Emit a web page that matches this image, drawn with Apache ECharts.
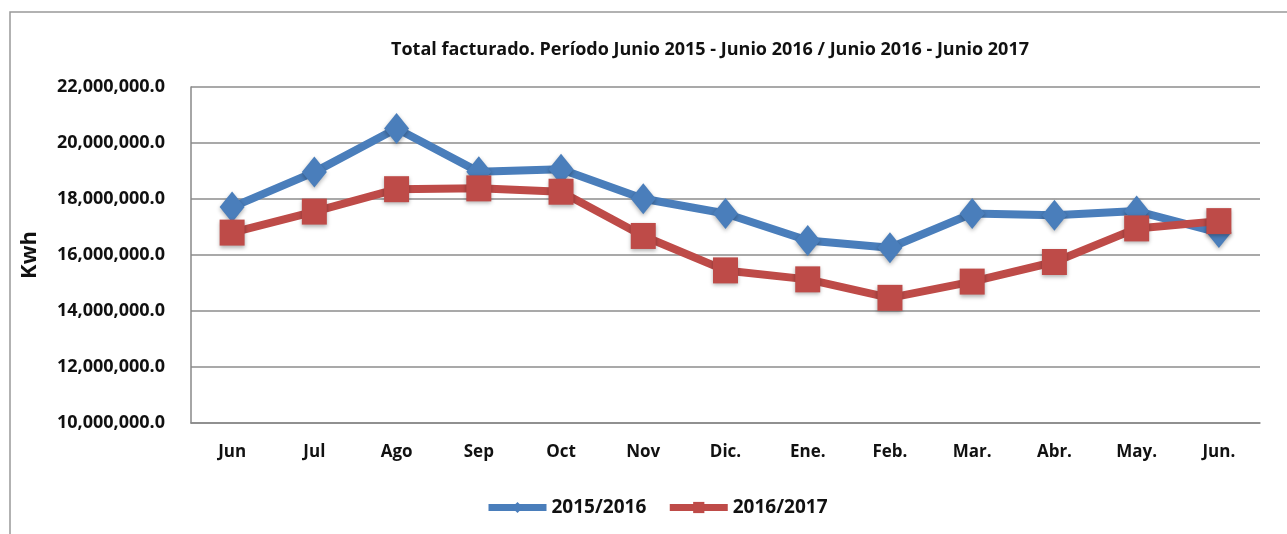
<!DOCTYPE html>
<html><head><meta charset="utf-8">
<script src="https://cdn.jsdelivr.net/npm/echarts@6/dist/echarts.min.js"></script>
<style>html,body{margin:0;padding:0;background:#fff}#c{width:1287px;height:534px}</style>
</head><body><div id="c"></div>
<script>
const categories = ['Jun','Jul','Ago','Sep','Oct','Nov','Dic.','Ene.','Feb.','Mar.','Abr.','May.','Jun.'];
const s2015 = [17710000,18960000,20520000,18970000,19060000,18010000,17480000,16520000,16260000,17480000,17420000,17570000,16800000];
const s2016 = [16800000,17550000,18350000,18380000,18260000,16680000,15450000,15130000,14470000,15050000,15750000,16950000,17210000];
const yTicks = {min:10000000, max:22000000, interval:2000000};
const FONT = '"Open Sans", "Liberation Sans", sans-serif';
const chart = echarts.init(document.getElementById('c'), null, {renderer:'canvas'});
const fmt = v => v.toLocaleString('en-US') + '.0';
chart.setOption({
  animation:false,
  backgroundColor:'#fff',
  graphic:[{type:'rect', shape:{x:10,y:12,width:1300,height:540}, style:{fill:'none', stroke:'#999', lineWidth:1.5}, z:-1}],
  title:{text:'Total facturado. Período Junio 2015 - Junio 2016 / Junio 2016 - Junio 2017', left:705, textAlign:'center', top:36,
    textStyle:{fontFamily:FONT, fontWeight:'bold', fontSize:18, color:'#111'}},
  grid:{left:191, right:27, top:87, bottom:111, containLabel:false},
  legend:{bottom:12, left:480, itemWidth:58, itemHeight:14, itemGap:20,
    lineStyle:{width:7},
    textStyle:{fontFamily:FONT, fontWeight:'bold', fontSize:19, color:'#111'},
    data:['2015/2016','2016/2017']},
  xAxis:{type:'category', data:categories, boundaryGap:true,
    axisLine:{lineStyle:{color:'#888', width:1.5}}, axisTick:{show:false},
    axisLabel:{fontFamily:FONT, fontWeight:'bold', fontSize:17, color:'#111', margin:21}},
  yAxis:{type:'value', min:yTicks.min, max:yTicks.max, interval:yTicks.interval,
    name:'Kwh', nameLocation:'middle', nameGap:150, nameRotate:90,
    nameTextStyle:{fontFamily:FONT, fontWeight:'bold', fontSize:22, color:'#111'},
    axisLine:{show:true, lineStyle:{color:'#888', width:1.5}}, axisTick:{show:false},
    splitLine:{lineStyle:{color:'#8c8c8c', width:1.5}},
    axisLabel:{fontFamily:FONT, fontWeight:'bold', fontSize:18, color:'#111', margin:26, formatter:fmt}},
  series:[
    {name:'2015/2016', type:'line', data:s2015, symbol:'diamond', symbolSize:[25,31],
      lineStyle:{color:'#4A7EBB', width:8}, itemStyle:{color:'#4A7EBB', shadowColor:'rgba(0,0,0,0.3)', shadowBlur:4, shadowOffsetY:2}, z:2},
    {name:'2016/2017', type:'line', data:s2016, symbol:'rect', symbolSize:[25,26],
      lineStyle:{color:'#BE4B48', width:8}, itemStyle:{color:'#BE4B48', shadowColor:'rgba(0,0,0,0.3)', shadowBlur:4, shadowOffsetY:2}, z:3}
  ]
});
</script></body></html>
